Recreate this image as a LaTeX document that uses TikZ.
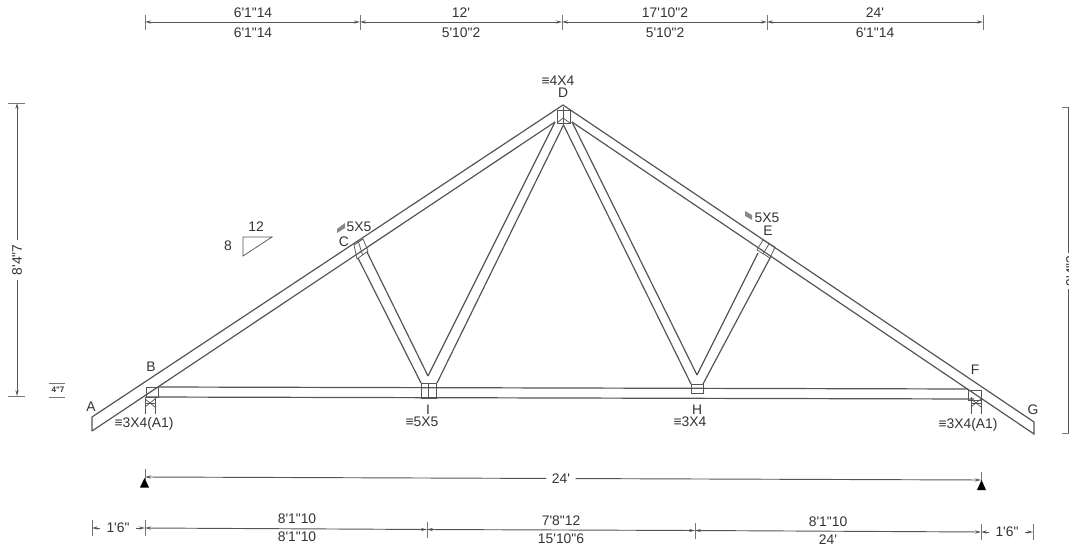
\documentclass[tikz,border=0pt]{standalone}
\usepackage{fontspec}
\usetikzlibrary{arrows.meta}
\newfontfamily\lab{Liberation Sans}
\definecolor{ink}{HTML}{555555}
\definecolor{tx}{HTML}{333333}
\tikzset{
  px/.style={x=0.75pt,y=-0.75pt},
  truss/.style={draw=ink,line width=0.9pt},
  thin/.style={draw=ink,line width=0.55pt},
  dim/.style={draw=ink,line width=0.7pt},
  tick/.style={draw=ink!80,line width=0.55pt},
  txt/.style={font=\lab\fontsize{10.4}{11}\selectfont,text=tx,inner sep=0pt},
  tiny/.style={font=\lab\bfseries\fontsize{6}{7}\selectfont,text=tx,inner sep=0pt},
  sup/.style={fill=black,draw=none},
  hatch/.style={fill=ink!70,draw=none},
  tip/.style={-{Stealth[length=4.5pt,width=2.4pt]}},
  twotip/.style={{Stealth[length=4.5pt,width=2.4pt]}-{Stealth[length=4.5pt,width=2.4pt]}}
}
\begin{document}
\begin{tikzpicture}[px]
\useasboundingbox (0,0) rectangle (1069,548);
% truss points
\coordinate (Aup) at (92,417);
\coordinate (Alo) at (92,431);
\coordinate (Dtop) at (563,105);
\coordinate (Gup) at (1034,422);
\coordinate (Glo) at (1034,434);
\coordinate (BLt) at (158,387);
\coordinate (BLb) at (146,397);
\coordinate (BRt) at (968,389);
\coordinate (BRb) at (974,399);
\coordinate (d1) at (555,122);
\coordinate (d2) at (563.5,125);
\coordinate (d3) at (572,122);
% chords
\draw[truss] (Alo) -- (Aup) -- (Dtop) -- (Gup) -- (Glo) -- (d3);
\draw[truss] (Alo) -- (d1);
\draw[truss] (BLt) -- (BRt);
\draw[truss] (BLb) -- (BRb);
% web points
\coordinate (c1) at (358,258);
\coordinate (c2) at (367,252);
\coordinate (i1) at (421,383);
\coordinate (i2) at (428,376);
\coordinate (i3) at (437,383);
\coordinate (h1) at (691,384);
\coordinate (h2) at (697,375);
\coordinate (h3) at (703,384);
\coordinate (e1) at (758,253);
\coordinate (e2) at (770,258);
% webs
\draw[truss] (c1) -- (i1);
\draw[truss] (c2) -- (i2);
\draw[truss] (i2) -- (d1);
\draw[truss] (i3) -- (d2);
\draw[truss] (d2) -- (h1);
\draw[truss] (d3) -- (h2);
\draw[truss] (h2) -- (e1);
\draw[truss] (h3) -- (e2);
% plates
\draw[thin] (354,245) -- (363,239) -- (368,251) -- (357,259) -- cycle;
\draw[thin] (358.5,242) -- (362.5,255);
\draw[thin] (557,110) rectangle (570,123);
\draw[thin] (563,107) -- (563,125);
\draw[thin] (557,123) -- (563,118) -- (570,123);
\draw[thin] (763,240) -- (775,247) -- (770,258) -- (757,250) -- cycle;
\draw[thin] (769,244) -- (763,254);
\draw[thin] (421,383) rectangle (436,398);
\draw[thin] (428,383) -- (428,398);
\draw[thin] (691,384) rectangle (703,393);
\draw[thin] (146,387) rectangle (158,397);
\draw[thin] (968,390) rectangle (981,400);
% supports
\foreach \a/\b in {145/155,971/981}{
  \draw[thin] (\a,397) -- (\a,414);
  \draw[thin] (\b,397) -- (\b,414);
  \draw[thin] (\a,399) -- (\b,407);
  \draw[thin] (\a,407) -- (\b,399);
  \draw[thin] (\a,403) -- (\b,403);
}
% letters
\node[txt] (lA) at (91,407) {A};
\node[txt] (lB) at (151,367) {B};
\node[txt] (lC) at (344,242) {C};
\node[txt] (lD) at (563,93) {D};
\node[txt] (lE) at (768,231) {E};
\node[txt] (lF) at (975,370) {F};
\node[txt] (lG) at (1033,410) {G};
\node[txt] (lH) at (697,410) {H};
\node[txt] (lI) at (428,410) {I};
% plate labels
\node[txt] (pB) at (144,423.5) {≡3X4(A1)};
\node[txt] (pF) at (968,424.5) {≡3X4(A1)};
\node[txt] (pI) at (422,422) {≡5X5};
\node[txt] (pH) at (690,422) {≡3X4};
\node[txt] (pD) at (558,81) {≡4X4};
\node[txt] (pC) at (359,227) {5X5};
\node[txt] (pE) at (767,218) {5X5};
\fill[hatch] (337,229) -- (345,223) -- (345,228) -- (337,233) -- cycle;
\fill[hatch] (745,211) -- (752,215) -- (752,220) -- (745,216) -- cycle;
% slope triangle
\coordinate (s1) at (243,237);
\coordinate (s2) at (272,237);
\coordinate (s3) at (243,256);
\draw[thin] (s1) -- (s2) -- (s3) -- cycle;
\node[txt] (s12) at (256,227) {12};
\node[txt] (s8) at (228,246) {8};
% left vertical dimension
\coordinate (v1) at (17,103);
\coordinate (v2) at (17,396);
\draw[tick] (8,103) -- (25,103);
\draw[tick] (8,396) -- (25,396);
\node[txt,rotate=90,fill=white,inner sep=3pt] (vl) at (17,260) {8'4"7};
\draw[dim,tip] (vl) -- (v1);
\draw[dim,tip] (vl) -- (v2);
% heel height
\coordinate (hh1) at (49,383);
\coordinate (hh2) at (65,383);
\coordinate (hh3) at (49,397);
\coordinate (hh4) at (65,397);
\draw[tick] (hh1) -- (hh2);
\draw[tick] (hh3) -- (hh4);
\node[tiny] (hhl) at (58,390) {4"7};
% right vertical dimension
\coordinate (r1) at (1068,107);
\coordinate (r2) at (1068,433);
\draw[tick] (1062,107) -- (1069,107);
\draw[tick] (1062,433) -- (1069,433);
\node[txt,rotate=90,fill=white,inner sep=2pt] (rl) at (1071,271) {9'4"3};
\draw[dim] (rl.east) ++(-3,0) -- (r1);
\draw[dim] (rl.west) ++(-3,0) -- (r2);
% top dimension
\foreach \n/\x in {t1/145,t2/360,t3/562,t4/767,t5/983}{
  \coordinate (\n) at (\x,22);
  \draw[tick] (\x,15) -- (\x,30);
}
\draw[dim,twotip] (t1) -- (t2);
\draw[dim,twotip] (t2) -- (t3);
\draw[dim,twotip] (t3) -- (t4);
\draw[dim,twotip] (t4) -- (t5);
\foreach \x/\u/\l in {253/6'1"14/6'1"14,461/12'/5'10"2,665/17'10"2/5'10"2,875/24'/6'1"14}{
  \node[txt] at (\x,13) {\u};
  \node[txt] at (\x,33) {\l};
}
% overall span
\coordinate (o1) at (145,477);
\coordinate (o2) at (981,480);
\draw[tick] (145,469) -- (145,480);
\draw[tick] (981,472) -- (981,483);
\node[txt,fill=white,inner sep=4pt] (ol) at (561,478.5) {24'};
\draw[dim,tip] (ol) -- (o1);
\draw[dim,tip] (ol) -- (o2);
\fill[sup] (144.5,478) -- (149,487.5) -- (140,487.5) -- cycle;
\fill[sup] (981.5,480) -- (986,490) -- (977,490) -- cycle;
% bottom dimension
\foreach \n/\x/\y in {b1/92/528,b2/145/528,b3/427/529.5,b4/695/530.5,b5/981/532,b6/1033/532}{
  \coordinate (\n) at (\x,\y);
  \draw[tick] (\x,\y-8) -- (\x,\y+8);
}
\draw[dim,twotip] (b2) -- (b3);
\draw[dim,twotip] (b3) -- (b4);
\draw[dim,twotip] (b4) -- (b5);
\node[txt,fill=white,inner sep=5pt] (bl) at (118,528) {1'6"};
\node[txt,fill=white,inner sep=5pt] (br) at (1007,532) {1'6"};
\draw[dim,tip] (bl) -- (b1);
\draw[dim,tip] (bl) -- (b2);
\draw[dim,tip] (br) -- (b5);
\draw[dim,tip] (br) -- (b6);
\foreach \x/\y/\u/\l in {297/519/8'1"10/8'1"10,561/521/7'8"12/15'10"6,828/522/8'1"10/24'}{
  \node[txt] at (\x,\y) {\u};
  \node[txt] at (\x,\y+18) {\l};
}
\end{tikzpicture}
\end{document}
